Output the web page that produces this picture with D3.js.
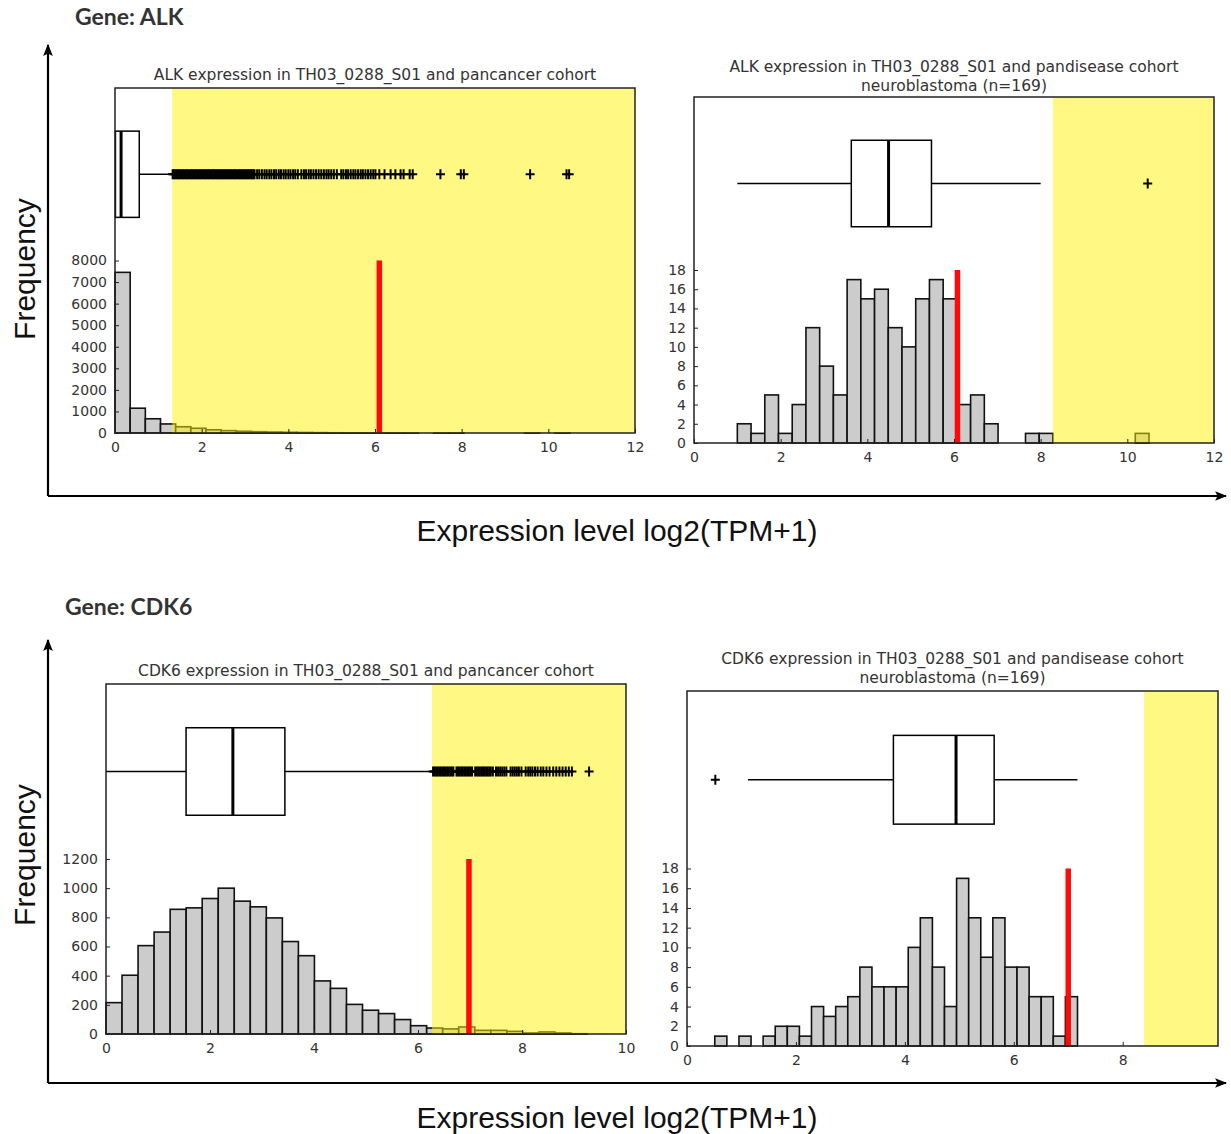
<!doctype html>
<html>
<head>
<meta charset="utf-8">
<title>ALK / CDK6 expression</title>
<script src="https://d3js.org/d3.v7.min.js"></script>
<style>
  body { margin: 0; background: #fff; }
  .tick text { font-family: "DejaVu Sans", sans-serif; font-size: 14px; fill: #333; }
  .tick line { stroke: #222; stroke-width: 1; }
  .domain { display: none; }
  .title { font-family: "DejaVu Sans", sans-serif; font-size: 15.5px; fill: #333; }
  .gene { font-family: Lato, sans-serif; font-weight: bold; font-size: 23px; fill: #333; }
  .big { font-family: "Liberation Sans", Arial, sans-serif; font-size: 30px; fill: #111; }
</style>
</head>
<body>
<script>

// ---- ALK, pancancer cohort ----
var alkPanRange = [0, 10.5];
var alkPanCounts = [7450, 1150, 660, 420, 290, 220, 150, 110, 80, 60, 45, 35, 25, 18, 12,
                    9, 7, 5, 4, 2, 0, 1, 2, 0, 0, 0, 0, 1, 0, 2];
var alkPanBox = [0, 0.01, 0.14, 0.56, 1.32];   // whisker lo, q1, median, q3, whisker hi
var alkPanFence = 1.32;
var alkPanSample = 6.1;
var alkPanOutliers = [1.33,1.36,1.39,1.42,1.45,1.48,1.51,1.54,1.57,1.6,1.63,1.66,1.69,1.72,1.75,1.78,
  1.81,1.84,1.87,1.9,1.93,1.96,1.99,2.02,2.05,2.08,2.11,2.14,2.17,2.2,2.23,2.26,2.29,2.32,2.35,
  2.38,2.41,2.44,2.47,2.5,2.53,2.56,2.59,2.62,2.65,2.68,2.71,2.74,2.77,2.8,2.83,2.86,2.89,2.92,
  2.95,2.98,3.01,3.04,3.07,3.1,3.13,3.16,3.19,3.22,
  3.28,3.33,3.39,3.45,3.5,3.56,3.61,3.67,3.72,3.78,3.83,3.89,3.94,4.0,4.05,4.11,4.16,4.22,4.3,
  4.36,4.41,4.47,4.52,4.58,4.64,4.7,4.76,4.82,4.88,4.93,4.99,5.05,5.12,5.22,5.27,5.33,5.38,5.44,
  5.5,5.55,5.61,5.67,5.72,5.78,5.84,5.9,5.96,6.01,
  6.1,6.22,6.36,6.47,6.59,6.66,6.8,6.87,7.51,7.98,8.05,9.58,10.42,10.48];
var alkPanYTicks = [0, 1000, 2000, 3000, 4000, 5000, 6000, 7000, 8000];

// ---- ALK, pandisease cohort (neuroblastoma) ----
var alkDisRange = [1.0, 10.5];
var alkDisCounts = [2, 1, 5, 1, 4, 12, 8, 5, 17, 15, 16, 12, 10, 15, 17,
                    15, 4, 5, 2, 0, 0, 1, 1, 0, 0, 0, 0, 0, 0, 1];
var alkDisBox = [1.0, 3.63, 4.49, 5.48, 8.0];
var alkDisFence = 8.28;
var alkDisSample = 6.08;
var alkDisOutliers = [10.47];
var alkDisYTicks = [0, 2, 4, 6, 8, 10, 12, 14, 16, 18];

// ---- CDK6, pancancer cohort ----
var cdkPanRange = [0, 9.25];
var cdkPanCounts = [215, 403, 606, 699, 855, 865, 929, 1000, 911, 872, 796, 634, 537, 364, 313,
                    203, 163, 140, 99, 57, 41, 35, 48, 25, 25, 18, 7, 14, 7, 2];
var cdkPanBox = [0, 1.54, 2.44, 3.44, 6.27];
var cdkPanFence = 6.27;
var cdkPanSample = 6.98;
var cdkPanOutliers = [6.29,6.32,6.35,6.38,6.41,6.44,6.47,6.5,6.53,6.56,6.59,6.62,6.65,6.68,
  6.74,6.77,6.8,6.83,6.86,6.89,6.92,6.95,6.98,7.01,7.04,7.1,7.13,7.16,7.19,7.22,7.25,7.28,7.31,
  7.34,7.37,7.4,7.44,7.5,7.54,7.58,7.62,7.66,7.7,7.78,7.82,7.86,7.9,7.94,7.99,8.07,8.12,8.16,
  8.2,8.25,8.3,8.36,8.41,8.47,8.53,8.6,8.66,8.72,8.78,8.84,8.9,8.96,9.29];
var cdkPanYTicks = [0, 200, 400, 600, 800, 1000, 1200];

// ---- CDK6, pandisease cohort (neuroblastoma) ----
var cdkDisRange = [0.51, 7.17];
var cdkDisCounts = [1, 0, 1, 0, 1, 2, 2, 1, 4, 3, 4, 5, 8, 6, 6,
                    6, 10, 13, 8, 4, 17, 13, 9, 13, 8, 8, 5, 5, 1, 5];
var cdkDisBox = [1.12, 3.79, 4.94, 5.64, 7.17];
var cdkDisFence = 8.39;
var cdkDisSample = 7.0;
var cdkDisOutliers = [0.52];
var cdkDisYTicks = [0, 2, 4, 6, 8, 10, 12, 14, 16, 18];

var svg = d3.select("body").append("svg")
    .attr("width", 1231)
    .attr("height", 1134);

// arrow head for the big axes
svg.append("defs").append("marker")
    .attr("id", "arr")
    .attr("viewBox", "0 0 10 10")
    .attr("refX", 9).attr("refY", 5)
    .attr("markerWidth", 5.5).attr("markerHeight", 5.5)
    .attr("markerUnits", "strokeWidth")
    .attr("orient", "auto")
  .append("path")
    .attr("d", "M0,1 L10,5 L0,9 L2,5 Z")
    .attr("fill", "#000");

function bigAxes(oy, topY, freqY, geneLabel, geneX, geneY) {
  svg.append("line").attr("x1", 48).attr("y1", oy).attr("x2", 48).attr("y2", topY)
     .attr("stroke", "#000").attr("stroke-width", 2.2).attr("marker-end", "url(#arr)");
  svg.append("line").attr("x1", 48).attr("y1", oy).attr("x2", 1226).attr("y2", oy)
     .attr("stroke", "#000").attr("stroke-width", 2.2).attr("marker-end", "url(#arr)");
  svg.append("text").attr("class", "big")
     .attr("transform", "translate(35," + freqY + ") rotate(-90)")
     .attr("text-anchor", "middle").text("Frequency");
  svg.append("text").attr("class", "big")
     .attr("x", 617).attr("y", oy + 45)
     .attr("text-anchor", "middle").text("Expression level log2(TPM+1)");
  svg.append("text").attr("class", "gene")
     .attr("x", geneX).attr("y", geneY).text(geneLabel);
}

bigAxes(496, 45, 269, "Gene: ALK", 75, 25);
bigAxes(1083, 640, 855, "Gene: CDK6", 65, 615);

var panels = [
  { title: ["ALK expression in TH03_0288_S01 and pancancer cohort"], titleY: 80,
    left: 115, right: 635, top: 88, bottom: 433, xMax: 12, xTicks: [0, 2, 4, 6, 8, 10, 12],
    yTicks: alkPanYTicks, range: alkPanRange, counts: alkPanCounts, box: alkPanBox,
    fence: alkPanFence, sample: alkPanSample, outliers: alkPanOutliers },
  { title: ["ALK expression in TH03_0288_S01 and pandisease cohort", "neuroblastoma (n=169)"], titleY: 72,
    left: 694, right: 1214, top: 97, bottom: 443, xMax: 12, xTicks: [0, 2, 4, 6, 8, 10, 12],
    yTicks: alkDisYTicks, range: alkDisRange, counts: alkDisCounts, box: alkDisBox,
    fence: alkDisFence, sample: alkDisSample, outliers: alkDisOutliers },
  { title: ["CDK6 expression in TH03_0288_S01 and pancancer cohort"], titleY: 676,
    left: 106, right: 626, top: 684, bottom: 1034, xMax: 10, xTicks: [0, 2, 4, 6, 8, 10],
    yTicks: cdkPanYTicks, range: cdkPanRange, counts: cdkPanCounts, box: cdkPanBox,
    fence: cdkPanFence, sample: cdkPanSample, outliers: cdkPanOutliers },
  { title: ["CDK6 expression in TH03_0288_S01 and pandisease cohort", "neuroblastoma (n=169)"], titleY: 664,
    left: 687, right: 1218, top: 691, bottom: 1046, xMax: 9.75, xTicks: [0, 2, 4, 6, 8],
    yTicks: cdkDisYTicks, range: cdkDisRange, counts: cdkDisCounts, box: cdkDisBox,
    fence: cdkDisFence, sample: cdkDisSample, outliers: cdkDisOutliers }
];

panels.forEach(function(p) {
  var histTop = p.yTicks[p.yTicks.length - 1];
  var yMax = histTop * 2;

  var x = d3.scaleLinear().domain([0, p.xMax]).range([p.left, p.right]);
  var y = d3.scaleLinear().domain([0, yMax]).range([p.bottom, p.top]);

  var g = svg.append("g");

  // histogram bars
  var n = p.counts.length;
  var w = (p.range[1] - p.range[0]) / n;
  var bins = p.counts.map(function(c, i) {
    return { x0: p.range[0] + i * w, x1: p.range[0] + (i + 1) * w, count: c };
  });
  g.selectAll("rect.bar").data(bins).enter().append("rect")
      .attr("class", "bar")
      .attr("x", function(d) { return x(d.x0); })
      .attr("width", function(d) { return x(d.x1) - x(d.x0); })
      .attr("y", function(d) { return y(d.count); })
      .attr("height", function(d) { return y(0) - y(d.count); })
      .attr("fill", "#cccccc")
      .attr("stroke", "#111")
      .attr("stroke-width", 1.6);

  // outlier region (beyond upper fence)
  g.append("rect")
      .attr("x", x(p.fence)).attr("y", p.top)
      .attr("width", p.right - x(p.fence)).attr("height", p.bottom - p.top)
      .attr("fill", "#fff205").attr("fill-opacity", 0.5);

  // boxplot
  var cy = y(yMax * 0.75), half = y(0) - y(yMax / 8);
  var b = p.box;
  var bg = g.append("g").attr("stroke", "#000").attr("fill", "none").attr("stroke-width", 1.5);
  bg.append("line").attr("x1", x(b[0])).attr("x2", x(b[1])).attr("y1", cy).attr("y2", cy);
  bg.append("line").attr("x1", x(b[3])).attr("x2", x(b[4])).attr("y1", cy).attr("y2", cy);
  bg.append("rect").attr("x", x(b[1])).attr("width", x(b[3]) - x(b[1]))
      .attr("y", cy - half).attr("height", 2 * half).attr("fill", "#fff");
  bg.append("line").attr("x1", x(b[2])).attr("x2", x(b[2]))
      .attr("y1", cy - half).attr("y2", cy + half).attr("stroke-width", 3);

  // outlier markers "+"
  var og = g.append("g").attr("stroke", "#000").attr("stroke-width", 2);
  p.outliers.forEach(function(v) {
    og.append("line").attr("x1", x(v) - 4.5).attr("x2", x(v) + 4.5).attr("y1", cy).attr("y2", cy);
    og.append("line").attr("x1", x(v)).attr("x2", x(v)).attr("y1", cy - 5).attr("y2", cy + 5);
  });

  // sample value
  g.append("line")
      .attr("x1", x(p.sample)).attr("x2", x(p.sample))
      .attr("y1", y(0)).attr("y2", y(histTop))
      .attr("stroke", "#ff0a0a").attr("stroke-width", 5.5);

  // frame
  g.append("rect")
      .attr("x", p.left).attr("y", p.top)
      .attr("width", p.right - p.left).attr("height", p.bottom - p.top)
      .attr("fill", "none").attr("stroke", "#222").attr("stroke-width", 1.5);

  // axes with inward ticks
  g.append("g")
      .attr("transform", "translate(0," + p.bottom + ")")
      .call(d3.axisBottom(x).tickValues(p.xTicks).tickFormat(d3.format("d"))
        .tickSizeInner(-4).tickSizeOuter(0).tickPadding(9));
  g.append("g")
      .attr("transform", "translate(" + p.left + ",0)")
      .call(d3.axisLeft(y).tickValues(p.yTicks).tickFormat(d3.format("d"))
        .tickSizeInner(-4).tickSizeOuter(0).tickPadding(8));

  // title
  p.title.forEach(function(t, i) {
    g.append("text").attr("class", "title")
        .attr("x", (p.left + p.right) / 2)
        .attr("y", p.titleY + i * 19)
        .attr("text-anchor", "middle")
        .text(t);
  });
});

</script>
</body>
</html>
